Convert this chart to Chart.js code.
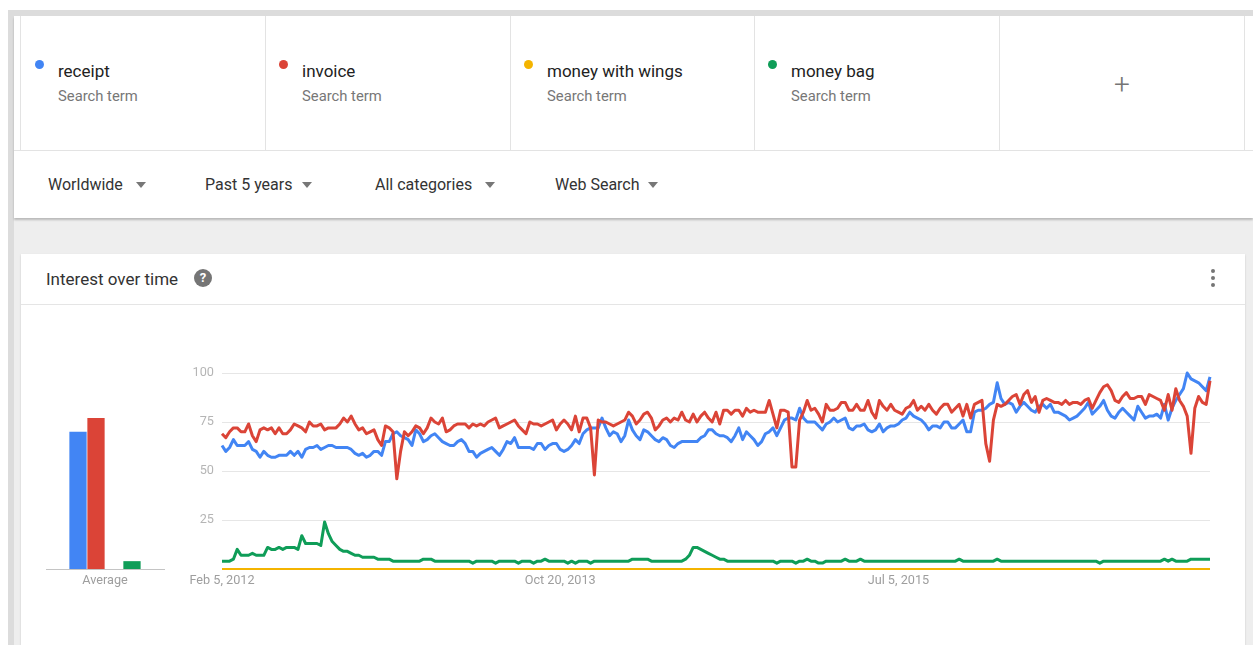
<!DOCTYPE html>
<html>
<head>
<meta charset="utf-8">
<script src="https://cdn.jsdelivr.net/npm/chart.js@4.4.1/dist/chart.umd.min.js"></script>
<style>
  body { margin: 0; width: 1253px; height: 645px; overflow: hidden; background: #fff; font-family: Roboto, Arial, sans-serif; position: relative; }
  .abs { position: absolute; }
  .frame { background: #dcdcdc; }
  .cell { position: absolute; top: 16px; height: 134px; border-left: 1px solid #e3e3e3; }
  .dot { position: absolute; width: 9px; height: 9px; border-radius: 50%; }
  .term { position: absolute; font-size: 17px; line-height: 20px; color: #222; white-space: nowrap; }
  .sub { position: absolute; font-size: 14.8px; line-height: 18px; color: #777; white-space: nowrap; }
  .filter { position: absolute; top: 175px; font-size: 16px; line-height: 20px; color: #333; white-space: nowrap; }
  .tri { position: absolute; top: 182px; width: 0; height: 0; border-left: 5px solid transparent; border-right: 5px solid transparent; border-top: 6px solid #777; }
  .kdot { position: absolute; left: 1211px; width: 4px; height: 4px; border-radius: 50%; background: #757575; }
</style>
</head>
<body>
<!-- outer frame -->
<div class="abs frame" style="left:8px;top:10px;width:1245px;height:6px"></div>
<div class="abs frame" style="left:8px;top:10px;width:6px;height:635px"></div>
<!-- grey page area -->
<div class="abs" style="left:14px;top:218px;width:1239px;height:427px;background:#eeeeee"></div>
<!-- header panel -->
<div class="abs" style="left:14px;top:16px;width:1239px;height:202px;background:#fff;box-shadow:0 2px 2px rgba(0,0,0,0.22)"></div>
<div class="abs" style="left:14px;top:150px;width:1239px;height:1px;background:#e3e3e3"></div>
<div class="cell" style="left:20px;width:245px"></div>
<div class="cell" style="left:265px;width:245px"></div>
<div class="cell" style="left:510px;width:244px"></div>
<div class="cell" style="left:754px;width:245px"></div>
<div class="cell" style="left:999px;width:244px;border-right:1px solid #e3e3e3"></div>

<div class="dot" style="left:35px;top:60px;background:#4285f4"></div>
<div class="term" style="left:58px;top:61px">receipt</div>
<div class="sub" style="left:58px;top:87px">Search term</div>
<div class="dot" style="left:279px;top:60px;background:#db4437"></div>
<div class="term" style="left:302px;top:61px">invoice</div>
<div class="sub" style="left:302px;top:87px">Search term</div>
<div class="dot" style="left:524px;top:60px;background:#f4b400"></div>
<div class="term" style="left:547px;top:61px">money with wings</div>
<div class="sub" style="left:547px;top:87px">Search term</div>
<div class="dot" style="left:768px;top:60px;background:#0f9d58"></div>
<div class="term" style="left:791px;top:61px">money bag</div>
<div class="sub" style="left:791px;top:87px">Search term</div>
<div class="abs" style="left:1107px;top:69px;width:30px;text-align:center;font-size:28px;line-height:32px;font-weight:300;color:#757575">+</div>

<div class="filter" style="left:48px">Worldwide</div>
<div class="tri" style="left:136px"></div>
<div class="filter" style="left:205px">Past 5 years</div>
<div class="tri" style="left:302px"></div>
<div class="filter" style="left:375px">All categories</div>
<div class="tri" style="left:485px"></div>
<div class="filter" style="left:555px">Web Search</div>
<div class="tri" style="left:648px"></div>

<!-- chart card -->
<div class="abs" style="left:21px;top:254px;width:1224px;height:391px;background:#fff;box-shadow:0 1px 2px rgba(0,0,0,0.15)"></div>
<div class="abs" style="left:21px;top:304px;width:1224px;height:1px;background:#e5e5e5"></div>
<div class="abs" style="left:46px;top:269px;font-size:17px;line-height:20px;color:#333">Interest over time</div>
<div class="abs" style="left:194px;top:269px;width:18px;height:18px;border-radius:50%;background:#757575;color:#fff;font-size:13px;font-weight:bold;line-height:18px;text-align:center">?</div>
<div class="kdot" style="top:269px"></div>
<div class="kdot" style="top:276px"></div>
<div class="kdot" style="top:283px"></div>

<canvas id="avg" class="abs" width="150" height="260" style="left:30px;top:340px"></canvas>
<canvas id="chart" class="abs" width="1080" height="260" style="left:150px;top:340px"></canvas>

<script>
// search terms and colours
var terms = ['receipt', 'invoice', 'money with wings', 'money bag'];
var colors = ['#4285f4', '#db4437', '#f4b400', '#0f9d58'];

// weekly categories start here, one point per week
var firstWeek = Date.UTC(2012, 1, 5);
var weekCount = 261;
var tickLabels = ['Feb 5, 2012', 'Oct 20, 2013', 'Jul 5, 2015'];
var yTicks = [25, 50, 75, 100];

// average bars
var averages = [70, 77, 0, 4];

// interest over time
var receipt = [
  63,60,62,66,63,63,63,65,61,60,
  57,60,58,57,57,58,58,58,60,58,
  60,57,61,62,62,63,61,62,63,63,
  62,62,62,62,61,59,58,59,57,58,
  60,60,58,65,65,69,70,68,67,66,
  63,71,69,65,66,68,69,67,65,64,
  63,63,65,66,64,60,60,57,59,60,
  61,62,60,58,61,65,64,67,62,62,
  62,62,61,64,64,61,63,64,64,61,
  60,61,63,66,64,69,71,72,72,72,
  77,72,68,70,69,65,68,76,71,68,
  66,71,70,68,66,65,67,66,63,62,
  64,65,65,65,65,65,67,68,71,71,
  69,68,68,67,65,68,72,66,70,68,
  66,63,65,69,70,72,68,72,76,77,
  77,76,82,77,75,75,75,73,71,74,
  75,77,75,76,77,72,71,73,73,74,
  71,70,71,74,70,72,73,73,74,76,
  77,80,78,77,76,74,71,73,73,72,
  75,75,72,72,74,76,70,70,80,81,
  81,82,84,85,95,87,84,85,84,80,
  83,85,83,81,80,83,84,82,84,80,
  80,79,78,76,77,78,80,82,85,79,
  81,83,86,81,78,77,80,82,80,78,
  76,83,80,77,78,78,79,77,84,76,
  82,86,89,92,100,97,96,95,93,91,
  98
];
var invoice = [
  69,67,70,72,72,70,70,74,68,65,
  71,72,71,72,69,72,69,69,71,74,
  73,72,70,75,73,73,74,71,72,72,
  72,74,77,75,78,74,71,72,69,70,
  71,66,63,73,72,70,46,60,70,68,
  70,73,72,69,72,77,75,74,77,70,
  71,73,74,74,74,72,74,73,74,73,
  75,76,77,72,73,74,75,76,73,71,
  69,75,74,74,73,74,75,76,71,74,
  76,74,71,78,70,77,77,72,48,76,
  75,75,74,73,74,75,76,80,78,74,
  76,79,80,77,71,73,76,77,75,77,
  76,80,76,75,79,75,78,80,77,75,
  80,74,81,81,79,81,81,78,82,80,
  81,80,80,80,86,79,72,81,81,80,
  52,52,76,80,86,81,82,79,75,84,
  81,81,82,85,85,81,81,84,81,81,
  86,80,77,86,83,81,84,81,80,79,
  82,83,86,81,83,81,84,81,79,82,
  84,84,80,82,84,78,84,77,84,85,
  86,64,55,76,84,83,84,86,88,89,
  84,89,91,85,88,80,86,87,86,85,
  85,84,86,84,85,85,84,86,87,82,
  86,90,93,94,91,86,85,88,90,87,
  87,88,88,84,89,88,87,86,81,89,
  81,92,86,83,78,59,82,88,85,84,
  96
];
var moneyWithWings = [
  0,0,0,0,0,0,0,0,0,0, 0,0,0,0,0,0,0,0,0,0, 0,0,0,0,0,0,0,0,0,0,
  0,0,0,0,0,0,0,0,0,0, 0,0,0,0,0,0,0,0,0,0, 0,0,0,0,0,0,0,0,0,0,
  0,0,0,0,0,0,0,0,0,0, 0,0,0,0,0,0,0,0,0,0, 0,0,0,0,0,0,0,0,0,0,
  0,0,0,0,0,0,0,0,0,0, 0,0,0,0,0,0,0,0,0,0, 0,0,0,0,0,0,0,0,0,0,
  0,0,0,0,0,0,0,0,0,0, 0,0,0,0,0,0,0,0,0,0, 0,0,0,0,0,0,0,0,0,0,
  0,0,0,0,0,0,0,0,0,0, 0,0,0,0,0,0,0,0,0,0, 0,0,0,0,0,0,0,0,0,0,
  0,0,0,0,0,0,0,0,0,0, 0,0,0,0,0,0,0,0,0,0, 0,0,0,0,0,0,0,0,0,0,
  0,0,0,0,0,0,0,0,0,0, 0,0,0,0,0,0,0,0,0,0, 0,0,0,0,0,0,0,0,0,0,
  0,0,0,0,0,0,0,0,0,0, 0,0,0,0,0,0,0,0,0,0,
  0
];
var moneyBag = [
  4,4,4,5,10,7,7,7,8,7,
  7,7,11,10,10,11,10,11,11,11,
  10,17,13,13,13,13,12,24,18,14,
  12,10,9,9,8,7,7,6,6,6,
  6,5,5,5,5,4,4,4,4,4,
  4,4,4,5,5,5,4,4,4,4,
  4,4,4,4,4,4,3,4,4,4,
  4,4,3,4,4,4,4,4,3,4,
  4,4,3,4,4,5,4,4,4,4,
  4,3,4,3,4,4,4,3,4,4,
  4,4,4,4,4,4,4,4,5,5,
  5,5,5,4,4,4,4,4,4,4,
  4,4,5,7,11,11,10,9,8,7,
  6,5,5,4,4,4,4,4,4,4,
  4,4,4,4,4,4,3,4,4,4,
  4,3,4,4,5,4,4,3,3,4,
  4,4,4,4,5,4,4,4,5,4,
  4,4,4,4,4,4,4,4,4,4,
  4,4,4,4,4,4,4,4,4,4,
  4,4,4,4,5,4,4,4,4,4,
  4,4,4,4,5,4,4,4,4,4,
  4,4,4,4,4,4,4,4,4,4,
  4,4,4,4,4,4,4,4,4,4,
  4,3,4,4,4,4,4,4,4,4,
  4,4,4,4,4,4,4,4,5,4,
  5,4,4,4,4,5,5,5,5,5,
  5
];

var months = ['Jan','Feb','Mar','Apr','May','Jun','Jul','Aug','Sep','Oct','Nov','Dec'];

// build the week labels
function weekLabels() {
  var labels = [];
  for (var i = 0; i < weekCount; i++) {
    var d = new Date(firstWeek + i * 7 * 86400000);
    labels.push(months[d.getUTCMonth()] + ' ' + d.getUTCDate() + ', ' + d.getUTCFullYear());
  }
  return labels;
}

var tickFont = { family: 'Roboto', size: 12.7 };

// average bar chart on the left
function createAvgChart() {
  var ctx = document.getElementById('avg').getContext('2d');
  return new Chart(ctx, {
    type: 'bar',
    data: {
      labels: ['Average'],
      datasets: terms.map(function (t, i) {
        return { label: t, data: [averages[i]], backgroundColor: colors[i], categoryPercentage: 0.61, barPercentage: 0.96 };
      })
    },
    options: {
      responsive: false,
      animation: false,
      layout: { autoPadding: false, padding: { left: 16, right: 16, top: 33, bottom: 0 } },
      plugins: { legend: { display: false }, tooltip: { enabled: false } },
      scales: {
        x: {
          grid: { display: false, drawTicks: false },
          border: { display: true, color: '#c4c4c4', width: 1 },
          ticks: { color: '#9e9e9e', font: tickFont, padding: 4 },
          afterFit: function (s) { s.height = 31; }
        },
        y: { display: false, min: 0, max: 100 }
      }
    }
  });
}

// interest over time line chart
function createChart() {
  var ctx = document.getElementById('chart').getContext('2d');
  var series = [receipt, invoice, moneyWithWings, moneyBag];
  var order = [1, 0, 3, 2];
  return new Chart(ctx, {
    type: 'line',
    data: {
      labels: weekLabels(),
      datasets: terms.map(function (t, i) {
        return {
          label: t,
          data: series[i],
          borderColor: colors[i],
          borderWidth: i === 2 ? 2 : 3,
          pointRadius: 0,
          tension: 0,
          fill: false,
          clip: false,
          borderJoinStyle: 'round',
          order: order[i]
        };
      })
    },
    options: {
      responsive: false,
      animation: false,
      layout: { autoPadding: false, padding: { left: 0, right: 20, top: 33, bottom: 0 } },
      plugins: { legend: { display: false }, tooltip: { enabled: false } },
      scales: {
        x: {
          grid: { display: false, drawTicks: false },
          border: { display: false },
          ticks: {
            autoSkip: false,
            maxRotation: 0,
            color: '#9e9e9e',
            font: tickFont,
            padding: 4,
            callback: function (v) {
              var l = this.getLabelForValue(v);
              return tickLabels.indexOf(l) >= 0 ? l : null;
            }
          },
          afterFit: function (s) { s.height = 31; }
        },
        y: {
          min: 0,
          max: 100,
          afterBuildTicks: function (s) {
            s.ticks = [0].concat(yTicks).map(function (v) { return { value: v }; });
          },
          grid: {
            drawTicks: false,
            color: function (c) { return c.tick && c.tick.value === 0 ? 'rgba(0,0,0,0)' : '#e6e6e6'; }
          },
          border: { display: false },
          ticks: {
            color: '#b5b5b5',
            font: tickFont,
            padding: 8,
            callback: function (v) { return v === 0 ? '' : v; }
          },
          afterFit: function (s) { s.width = 72; }
        }
      }
    }
  });
}

var avgChart = createAvgChart();
var chart = createChart();
</script>
</body>
</html>
